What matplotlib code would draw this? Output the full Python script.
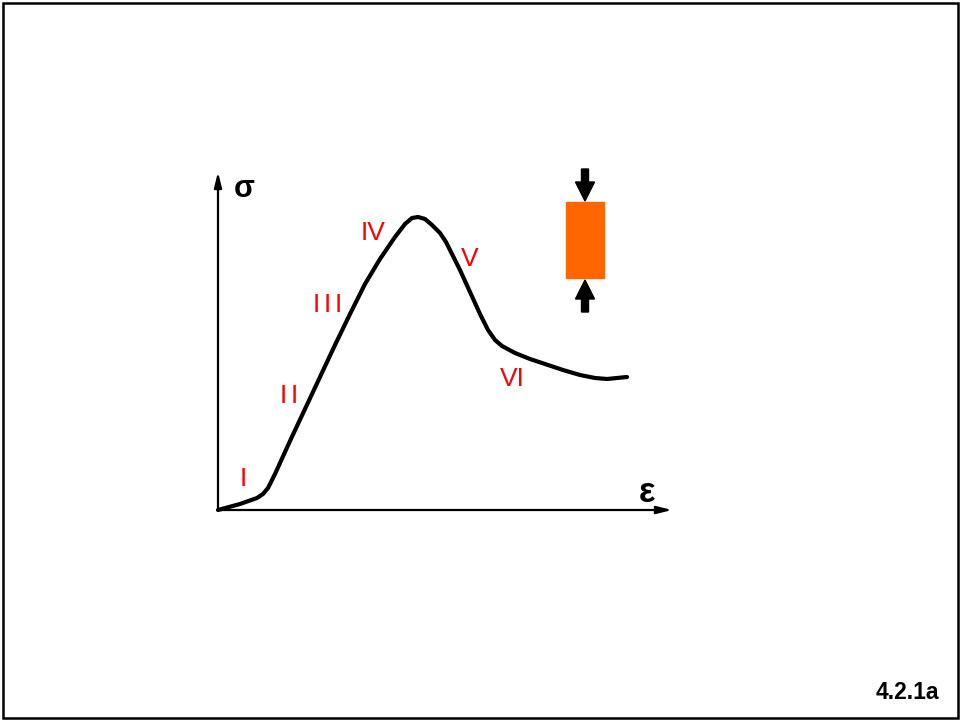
import matplotlib
matplotlib.use('Agg')
import matplotlib.pyplot as plt
from matplotlib.patches import Rectangle

plt.rcParams['font.family'] = ['Liberation Sans', 'DejaVu Sans']

# stress-strain curve under compression (arbitrary units)
strain = [0, 22, 39, 45, 50, 57, 72, 87, 102, 117, 132, 147, 162, 177, 187, 194,
          200, 207, 214, 222, 228, 234, 242, 252, 262, 270, 277, 284, 297, 312,
          327, 345, 362, 377, 389, 399, 409]
stress = [0, 6, 12, 16, 22, 36, 69, 101, 133, 165, 196, 226, 251, 273, 286, 292,
          293, 291, 285, 277, 268, 256, 240, 218, 196, 180, 170, 164, 157, 151,
          146, 140, 135, 132, 131, 132, 133]

# stage labels and where they sit
stages = ['I', 'II', 'III', 'IV', 'V', 'VI']
stage_x = [25, 70.5, 109, 155.5, 252, 294.5]
stage_y = [24, 107, 198, 270, 244, 124]

fig = plt.figure(figsize=(9.61, 7.21), dpi=100)
fig.patches.append(Rectangle((3 / 961, 3 / 721), 955 / 961, 715 / 721,
                             transform=fig.transFigure, fill=False,
                             lw=1.8, ec='black'))

ax = fig.add_axes([218 / 961, 211 / 721, 454 / 961, 338 / 721])
ax.set_xlim(0, 454)
ax.set_ylim(0, 338)
ax.axis('off')

arrow = dict(arrowstyle='-|>,head_length=0.6,head_width=0.15', lw=1.6,
             color='black', mutation_scale=15, shrinkA=0, shrinkB=0)
ax.annotate('', xy=(0, 338), xytext=(0, 0), arrowprops=arrow)
ax.annotate('', xy=(454, 0), xytext=(0, 0), arrowprops=arrow)

ax.plot(strain, stress, color='black', lw=3, solid_joinstyle='round',
        solid_capstyle='round', clip_on=False)

ax.text(26, 313, 'σ', fontsize=22, fontweight='bold', ha='center', va='baseline')
ax.text(429.5, 8, 'ε', fontsize=25, fontweight='bold', ha='center', va='baseline')

for lab, x, y in zip(stages, stage_x, stage_y):
    if set(lab) == {'I'}:
        # spread the strokes of I, II, III a little
        n = len(lab)
        for k in range(n):
            ax.text(x + (k - (n - 1) / 2) * 11, y, 'I', color='red', fontsize=19,
                    ha='center', va='baseline')
    else:
        ax.text(x, y, lab, color='red', fontsize=19, ha='center', va='baseline')

# compressed specimen
ax.add_patch(Rectangle((348, 232), 38, 76, color='#ff6600', clip_on=False))
ax.arrow(367, 341, 0, -32, width=7, head_width=19, head_length=19,
         length_includes_head=True, color='black', clip_on=False)
ax.arrow(367, 198, 0, 32, width=7, head_width=19, head_length=19,
         length_includes_head=True, color='black', clip_on=False)

fig.text(939 / 961, 22 / 721, '4.2.1a', fontsize=16.5, fontweight='bold',
         ha='right', va='baseline')

fig.savefig('out.png', dpi=100)
